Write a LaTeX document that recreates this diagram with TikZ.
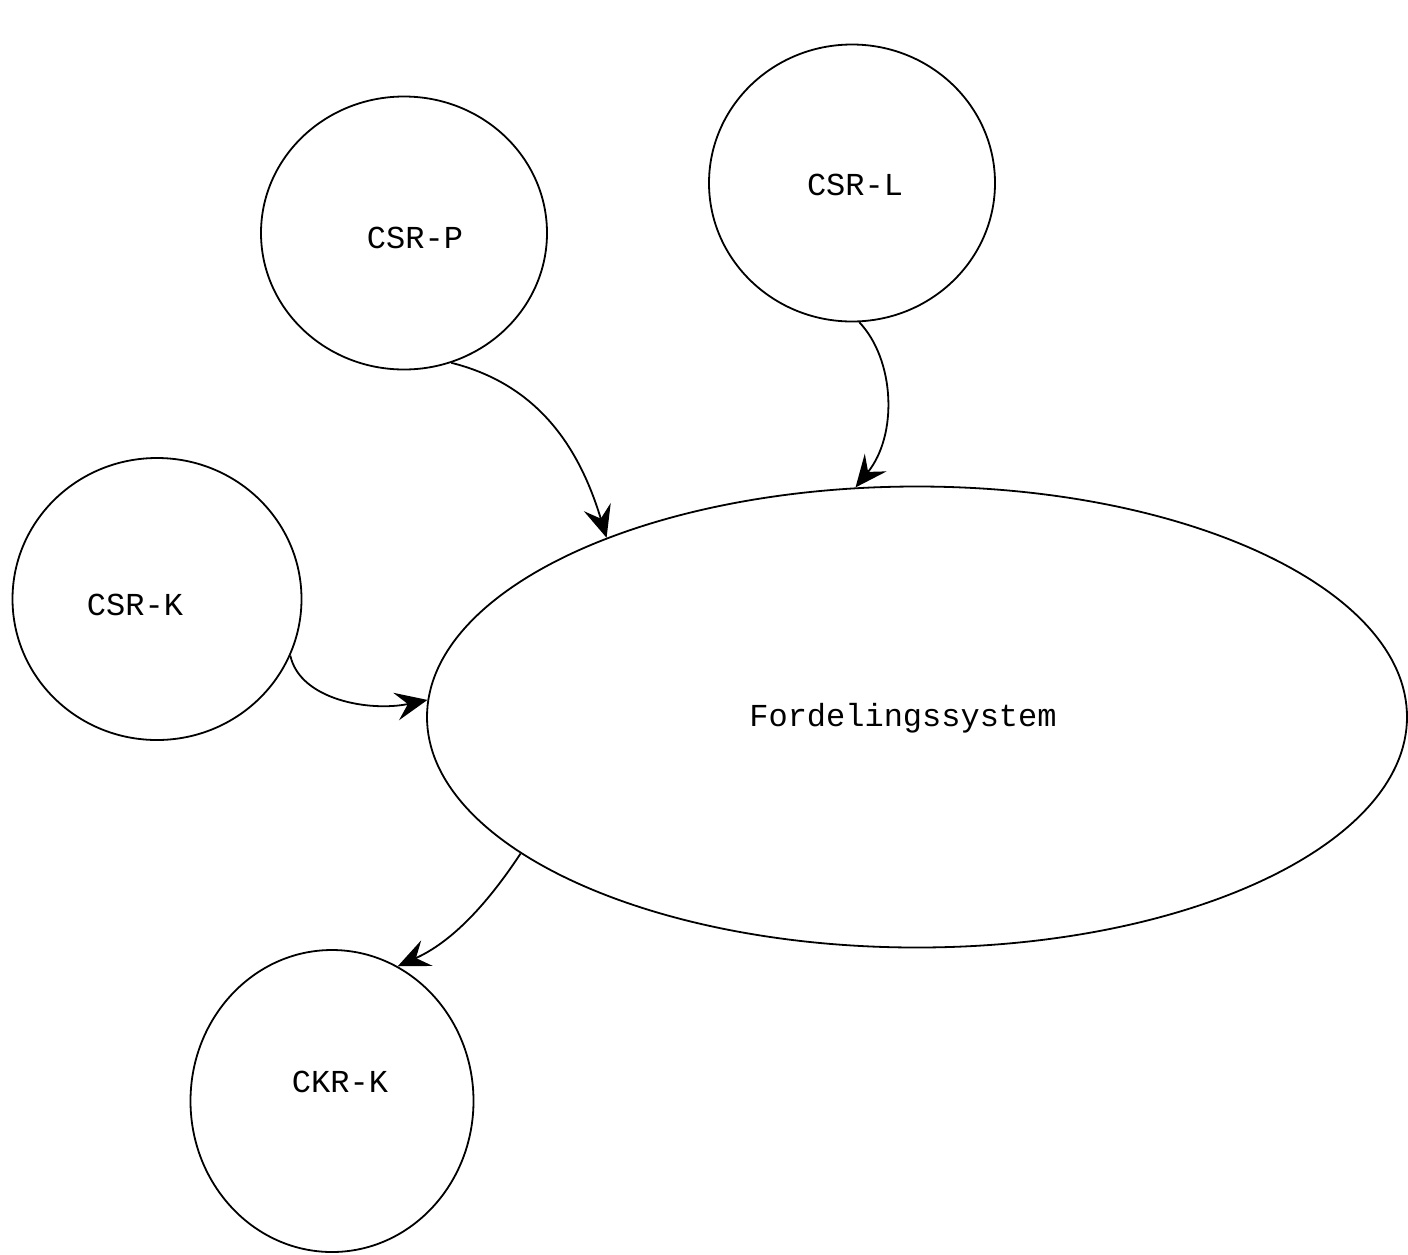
\documentclass[tikz,border=0pt]{standalone}
\usepackage{fontspec}
\setmonofont{Liberation Mono}
\usetikzlibrary{shapes.geometric,arrows.meta}
\tikzset{
  bubble/.style={draw, ellipse, line width=1.8pt, inner sep=0pt},
  lbl/.style={font=\ttfamily\fontsize{32}{38}\selectfont},
  flow/.style={line width=1.8pt, -{Stealth[length=32pt,width=28pt,inset=12pt]}}
}
\begin{document}
\begin{tikzpicture}[x=1pt,y=-1pt]
\useasboundingbox[fill=white] (0,0) rectangle (1408,1254);
\node[bubble, minimum width=286pt, minimum height=273pt] (csrp) at (404,233) {};
\node[bubble, minimum width=286pt, minimum height=277pt] (csrl) at (852,183) {};
\node[bubble, minimum width=289pt, minimum height=282pt] (csrk) at (157,599) {};
\node[bubble, minimum width=283pt, minimum height=302pt] (ckrk) at (332,1101) {};
\node[bubble, minimum width=980pt, minimum height=461pt] (fs) at (917,717) {};
\node[lbl] (tcsrp) at (415,238) {CSR-P};
\node[lbl] (tcsrl) at (855,185) {CSR-L};
\node[lbl] (tcsrk) at (135,605) {CSR-K};
\node[lbl] (tckrk) at (340,1082) {CKR-K};
\node[lbl] (tfs) at (903,718) {Fordelingssystem};
\draw[flow] (csrp.-70) .. controls (540,385) and (580,450) .. (fs.150.5);
\draw[flow] (csrl.-87) .. controls (895,360) and (898,435) .. (fs.105.8);
\draw[flow] (csrk.-23) .. controls (300,700) and (370,712) .. (fs.178.4);
\draw[flow] (fs.-161.7) .. controls (480,915) and (445,945) .. (ckrk.64);
\end{tikzpicture}
\end{document}
